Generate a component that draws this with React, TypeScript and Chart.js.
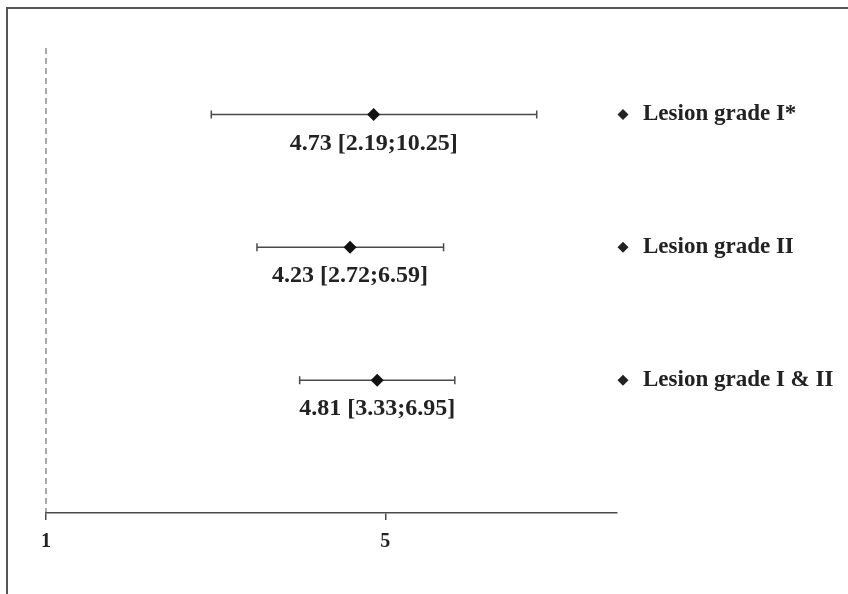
import React, { useEffect, useRef } from "react";
import { Chart, registerables } from "chart.js";

Chart.register(...registerables);

const categories = ["Lesion grade I*", "Lesion grade II", "Lesion grade I & II"];
const estimates = [4.73, 4.23, 4.81];
const lowerCI = [2.19, 2.72, 3.33];
const upperCI = [10.25, 6.59, 6.95];
const rowIndex = [1, 2, 3];
const xTickValues = [1, 5];
const xMin = 1;
const xMax = 15;
const refValue = 1;

const SERIF = '"Liberation Serif", "Times New Roman", serif';
const INK = "#222222";
const LINE = "#4a4a4a";

const forestPlugin = {
  id: "forest",
  beforeDraw(chart: any) {
    const { ctx, width, height } = chart;
    ctx.save();
    ctx.fillStyle = "#ffffff";
    ctx.fillRect(0, 0, width, height);
    ctx.restore();
  },
  beforeDatasetsDraw(chart: any) {
    const { ctx, chartArea, scales } = chart;
    const xs = scales.x;
    const ys = scales.y;
    ctx.save();
    const rx = xs.getPixelForValue(refValue);
    ctx.strokeStyle = "#555555";
    ctx.lineWidth = 1;
    ctx.setLineDash([6, 4]);
    ctx.beginPath();
    ctx.moveTo(rx, chartArea.top);
    ctx.lineTo(rx, chartArea.bottom);
    ctx.stroke();
    ctx.setLineDash([]);
    ctx.strokeStyle = LINE;
    ctx.lineWidth = 1.5;
    for (let i = 0; i < estimates.length; i++) {
      const y = ys.getPixelForValue(rowIndex[i]);
      const x1 = xs.getPixelForValue(lowerCI[i]);
      const x2 = xs.getPixelForValue(upperCI[i]);
      ctx.beginPath();
      ctx.moveTo(x1, y);
      ctx.lineTo(x2, y);
      ctx.moveTo(x1, y - 4);
      ctx.lineTo(x1, y + 4);
      ctx.moveTo(x2, y - 4);
      ctx.lineTo(x2, y + 4);
      ctx.stroke();
    }
    ctx.restore();
  },
  afterDraw(chart: any) {
    const { ctx, chartArea, scales, width, height } = chart;
    const xs = scales.x;
    const ys = scales.y;
    ctx.save();
    ctx.fillStyle = INK;
    ctx.font = `bold 24px ${SERIF}`;
    ctx.textAlign = "center";
    ctx.textBaseline = "middle";
    for (let i = 0; i < estimates.length; i++) {
      const x = xs.getPixelForValue(estimates[i]);
      const y = ys.getPixelForValue(rowIndex[i]);
      const txt = `${estimates[i].toFixed(2)} [${lowerCI[i].toFixed(2)};${upperCI[i].toFixed(2)}]`;
      ctx.fillText(txt, x, y + 29);
    }
    ctx.textAlign = "left";
    ctx.font = `bold 23px ${SERIF}`;
    for (let i = 0; i < categories.length; i++) {
      const y = ys.getPixelForValue(rowIndex[i]);
      const dx = chartArea.right + 6;
      ctx.beginPath();
      ctx.moveTo(dx, y - 5.5);
      ctx.lineTo(dx + 5.5, y);
      ctx.lineTo(dx, y + 5.5);
      ctx.lineTo(dx - 5.5, y);
      ctx.closePath();
      ctx.fill();
      ctx.fillText(categories[i], chartArea.right + 26, y);
    }
    ctx.strokeStyle = "#555555";
    ctx.lineWidth = 2;
    ctx.beginPath();
    ctx.moveTo(7, height);
    ctx.lineTo(7, 8);
    ctx.lineTo(width, 8);
    ctx.stroke();
    ctx.restore();
  },
};

export default function App() {
  const ref = useRef<HTMLCanvasElement | null>(null);
  useEffect(() => {
    if (!ref.current) return;
    const chart = new Chart(ref.current, {
      type: "scatter",
      data: {
        datasets: [
          {
            data: estimates.map((v, i) => ({ x: v, y: rowIndex[i] })),
            pointStyle: "rectRot",
            pointRadius: 6.5,
            pointHoverRadius: 6.5,
            backgroundColor: "#111111",
            borderColor: "#111111",
            borderWidth: 0,
          },
        ],
      },
      options: {
        responsive: false,
        animation: false,
        events: [],
        layout: { padding: { left: 46, right: 231, top: 48, bottom: 30 } },
        plugins: { legend: { display: false }, tooltip: { enabled: false } },
        scales: {
          x: {
            type: "logarithmic",
            min: xMin,
            max: xMax,
            afterBuildTicks: (scale: any) => {
              scale.ticks = xTickValues.map((v) => ({ value: v }));
            },
            grid: { display: true, drawOnChartArea: false, drawTicks: true, tickLength: 7, color: LINE, lineWidth: 1.5 },
            border: { display: true, color: LINE, width: 1.5 },
            ticks: {
              autoSkip: false,
              maxRotation: 0,
              padding: 10,
              color: INK,
              font: { family: SERIF, size: 20, weight: "bold" },
              callback: (v: any) => String(v),
            },
          },
          y: {
            type: "linear",
            min: 0.5,
            max: 4,
            reverse: true,
            display: false,
          },
        },
      },
      plugins: [forestPlugin],
    } as any);
    return () => chart.destroy();
  }, []);
  return (
    <div style={{ position: "absolute", left: 0, top: 0, width: 848, height: 594 }}>
      <canvas ref={ref} width={848} height={594} style={{ display: "block" }} />
    </div>
  );
}
